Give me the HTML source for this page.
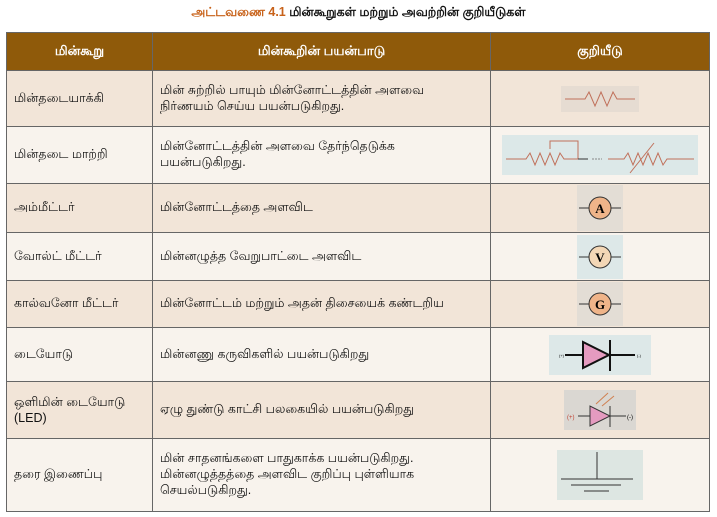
<!DOCTYPE html>
<html><head><meta charset="utf-8"><style>
body{margin:0;width:717px;height:517px;background:#fff;font-family:"Liberation Sans","DejaVu Sans",sans-serif;color:#111;position:relative;overflow:hidden}
.t{position:absolute;top:5px;left:0;width:717px;text-align:center;font-size:12.5px;font-weight:bold}
.t span{color:#c8621a}
table{position:absolute;left:6px;top:32px;width:704px;border-collapse:collapse;font-size:12.5px}
td,th{border:1px solid #666;padding:0 7px;text-align:left}
th{background:#8f5a0a;color:#fff;height:37px;font-size:13px;text-align:center}
tr.b td{background:#f2e5d8}tr.l td{background:#f8f3ed}
td.s{text-align:center;padding:0}
</style></head><body>
<div class="t"><span>அட்டவணை 4.1</span> மின்கூறுகள் மற்றும் அவற்றின் குறியீடுகள்</div>
<table>
<colgroup><col style="width:146px"><col style="width:338px"><col></colgroup>
<tr><th>மின்கூறு</th><th>மின்கூறின் பயன்பாடு</th><th>குறியீடு</th></tr>
<tr class="b" style="height:56px"><td>மின்தடையாக்கி</td><td>மின் சுற்றில் பாயும் மின்னோட்டத்தின் அளவை<br>நிர்ணயம் செய்ய பயன்படுகிறது.</td><td class="s"><svg width="78" height="26" style="vertical-align:middle"><rect width="78" height="26" fill="#e6dcd2"/><polyline points="4,13 24,13 28,6 34,20 40,6 46,20 52,6 56,13 74,13" fill="none" stroke="#c0705a" stroke-width="1"/></svg></td></tr>
<tr class="l" style="height:57px"><td>மின்தடை மாற்றி</td><td>மின்னோட்டத்தின் அளவை தேர்ந்தெடுக்க<br>பயன்படுகிறது.</td><td class="s"><svg width="196" height="40" style="vertical-align:middle"><rect width="196" height="40" fill="#dce8e8"/><polyline points="4,24 24,24 28,18 33,30 38,18 43,30 48,18 53,30 58,18 62,24 76,24 76,6 48,6 48,14" fill="none" stroke="#c0705a"/><polyline points="76,24 86,24" stroke="#333" fill="none"/><line x1="90" y1="24" x2="100" y2="24" stroke="#888" stroke-dasharray="2,1"/><polyline points="106,24 122,24 126,18 131,30 136,18 141,30 146,18 151,30 156,18 161,30 165,24 192,24" fill="none" stroke="#c0705a"/><line x1="128" y1="38" x2="152" y2="8" stroke="#c0705a"/></svg></td></tr>
<tr class="b" style="height:49px"><td>அம்மீட்டர்</td><td>மின்னோட்டத்தை அளவிட</td><td class="s"><svg width="46" height="46" style="vertical-align:middle"><rect width="46" height="46" fill="#e3ddd5"/><line x1="2" y1="23" x2="44" y2="23" stroke="#333"/><circle cx="23" cy="23" r="11" fill="#efb489" stroke="#333"/><text x="23" y="28" font-family="Liberation Serif" font-weight="bold" font-size="13" text-anchor="middle">A</text></svg></td></tr>
<tr class="l" style="height:48px"><td>வோல்ட் மீட்டர்</td><td>மின்னழுத்த வேறுபாட்டை அளவிட</td><td class="s"><svg width="46" height="44" style="vertical-align:middle"><rect width="46" height="44" fill="#dde8e8"/><line x1="2" y1="22" x2="44" y2="22" stroke="#333"/><circle cx="23" cy="22" r="11" fill="#f3d7b6" stroke="#333"/><text x="23" y="27" font-family="Liberation Serif" font-weight="bold" font-size="13" text-anchor="middle">V</text></svg></td></tr>
<tr class="b" style="height:47px"><td>கால்வனோ மீட்டர்</td><td>மின்னோட்டம் மற்றும் அதன் திசையைக் கண்டறிய</td><td class="s"><svg width="46" height="44" style="vertical-align:middle"><rect width="46" height="44" fill="#e3ddd5"/><line x1="2" y1="22" x2="44" y2="22" stroke="#333"/><circle cx="23" cy="22" r="11" fill="#efb489" stroke="#333"/><text x="23" y="27" font-family="Liberation Serif" font-weight="bold" font-size="13" text-anchor="middle">G</text></svg></td></tr>
<tr class="l" style="height:54px"><td>டையோடு</td><td>மின்னணு கருவிகளில் பயன்படுகிறது</td><td class="s"><svg width="102" height="40" style="vertical-align:middle"><rect width="102" height="40" fill="#dde8e8"/><line x1="16" y1="20" x2="86" y2="20" stroke="#111" stroke-width="2"/><polygon points="34,7 34,33 60,20" fill="#e59bc0" stroke="#111" stroke-width="2"/><line x1="61" y1="5" x2="61" y2="36" stroke="#111" stroke-width="2"/><text x="10" y="22" font-size="4">(+)</text><text x="88" y="22" font-size="4">(-)</text></svg></td></tr>
<tr class="b" style="height:57px"><td>ஒளிமின் டையோடு<br>(LED)</td><td>ஏழு துண்டு காட்சி பலகையில் பயன்படுகிறது</td><td class="s"><svg width="72" height="40" style="vertical-align:middle"><rect width="72" height="40" fill="#dad7d2"/><line x1="14" y1="26" x2="62" y2="26" stroke="#333"/><polygon points="26,16 26,36 46,26" fill="#e59bc0" stroke="#333"/><line x1="46" y1="16" x2="46" y2="37" stroke="#333"/><line x1="32" y1="14" x2="44" y2="3" stroke="#d08050"/><line x1="38" y1="16" x2="50" y2="6" stroke="#d08050"/><text x="3" y="29" font-size="6" fill="#c04030">(+)</text><text x="63" y="29" font-size="6">(-)</text></svg></td></tr>
<tr class="l" style="height:73px"><td>தரை இணைப்பு</td><td>மின் சாதனங்களை பாதுகாக்க பயன்படுகிறது.<br>மின்னழுத்தத்தை அளவிட குறிப்பு புள்ளியாக<br>செயல்படுகிறது.</td><td class="s"><svg width="86" height="50" style="vertical-align:middle"><rect width="86" height="50" fill="#dde6e2"/><line x1="40" y1="2" x2="40" y2="29" stroke="#333"/><line x1="4" y1="29" x2="76" y2="29" stroke="#333"/><line x1="14" y1="35" x2="64" y2="35" stroke="#333"/><line x1="27" y1="41" x2="52" y2="41" stroke="#333"/></svg></td></tr>
</table>
</body></html>
